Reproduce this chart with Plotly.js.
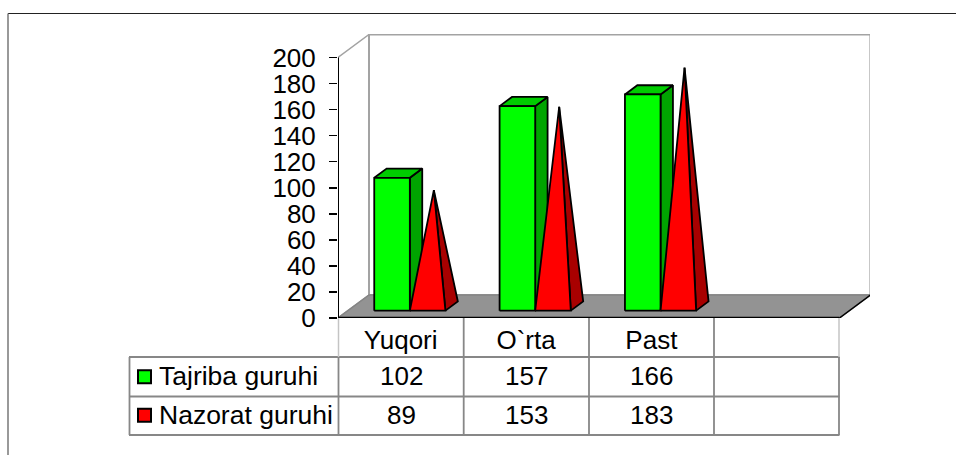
<!DOCTYPE html>
<html>
<head>
<meta charset="utf-8">
<script src="https://cdn.plot.ly/plotly-3.0.1.min.js"></script>
<style>html,body{margin:0;padding:0;background:#fff}#chart{width:956px;height:455px}</style>
</head>
<body>
<div id="chart"></div>
<script>
// ---- data ----
const categories = ["Yuqori", "O`rta", "Past", ""];
const tajribaName = "Tajriba guruhi";
const nazoratName = "Nazorat guruhi";
const tajriba = [102, 157, 166];
const nazorat = [89, 153, 183];
const yTicks = [0, 20, 40, 60, 80, 100, 120, 140, 160, 180, 200];

// ---- layout frame (pixels of the page) ----
const W = 956, H = 455;
const m = {l: 338, t: 34, r: 86, b: 137};
const plotW = W - m.l - m.r, plotH = H - m.t - m.b;
const catPx = 125.35, valPx = 1.3025;   // px per category, px per value unit
const depthX = 31 / catPx, depthY = 23 / valPx; // full depth of the 3-D floor
const xMax = plotW / catPx, yMax = plotH / valPx;

// oblique projection: category position, value, depth 0..1 -> axis coordinates
const P = (c, v, d) => [c + d * depthX, v + d * depthY];
function poly(pts, fill, line, width, name) {
  return {
    type: "scatter", mode: "lines", x: pts.map(p => p[0]), y: pts.map(p => p[1]),
    fill: fill ? "toself" : "none", fillcolor: fill || undefined,
    line: {color: line, width: width}, name: name, showlegend: false,
    hoverinfo: "skip", cliponaxis: false
  };
}
const closed = a => a.concat([a[0]]);

const traces = [];
const WALL = "#a3a3a3", FLOOR = "#939393";
// walls and floor
traces.push(poly(closed([P(0,0,0), P(0,200,0), P(0,200,1), P(0,0,1)]), "#ffffff", WALL, 1.5, "left wall"));
traces.push(poly(closed([P(0,0,1), P(0,200,1), P(4,200,1), P(4,0,1)]), "#ffffff", WALL, 2, "back wall"));
traces.push(poly(closed([P(0,0,0), P(0,0,1), P(4,0,1), P(4,0,0)]), FLOOR, "#858585", 1.5, "floor"));
traces.push(poly([P(4,0,0), P(4,0,1)], null, "#000000", 1.5, "floor edge"));

// marks
const d0 = 0.32, d1 = 0.72, dm = (d0 + d1) / 2;
const barL = 0.21, barW = 0.284;
const BLK = 1.8;
tajriba.forEach((v, i) => {
  const a = i + barL, b = a + barW, c = b + barW;
  // column
  traces.push(poly(closed([P(b,0,d0), P(b,v,d0), P(b,v,d1), P(b,0,d1)]), "#00a400", "#000", BLK, tajribaName));
  traces.push(poly(closed([P(a,v,d0), P(a,v,d1), P(b,v,d1), P(b,v,d0)]), "#00cc00", "#000", BLK, tajribaName));
  traces.push(poly(closed([P(a,0,d0), P(a,v,d0), P(b,v,d0), P(b,0,d0)]), "#00ff00", "#000", BLK, tajribaName));
  // pyramid
  const n = nazorat[i], top = P((b + c) / 2, n, dm);
  traces.push(poly(closed([P(c,0,d0), P(c,0,d1), top]), "#a80000", "#000", BLK, nazoratName));
  traces.push(poly(closed([P(b,0,d0), P(c,0,d0), top]), "#ff0000", "#000", BLK, nazoratName));
});

// axis lines
traces.push(poly([[0,0],[0,200]], null, "#000000", 2, "y axis"));
traces.push(poly([[0,0],[4,0]], null, "#000000", 2.5, "x axis"));

// ---- table & frame ----
const FONT = {family: "Liberation Sans, Arial, sans-serif", size: 26, color: "#000"};
const LEGFONT = {family: "Liberation Sans, Arial, sans-serif", size: 26.5, color: "#000"};
const paperX = px => (px - m.l) / plotW;
const paperY = py => (m.t + plotH - py) / plotH;
const shapes = [];
const seg = (x0, y0, x1, y1, color, width) => shapes.push({
  type: "line", xref: "paper", yref: "paper",
  x0: paperX(x0), y0: paperY(y0), x1: paperX(x1), y1: paperY(y1),
  line: {color: color, width: width}
});
const GRID = "#878787", SOFT = "#c4c4c4";
[357, 396.5, 435].forEach(y => seg(129, y, 839.5, y, GRID, 1.8));
seg(129.5, 357, 129.5, 435, GRID, 1.8);
[463.7, 589, 714].forEach(x => seg(x, 318, x, 435, GRID, 1.8));
[338.5, 839].forEach(x => { seg(x, 318, x, 357, SOFT, 1.5); seg(x, 357, x, 435, GRID, 1.8); });
seg(8, 13.5, 956, 13.5, "#222222", 1.2);
seg(8, 13.5, 8, 455, "#777777", 1.5);

// legend keys inside the table
const key = (cy, color) => shapes.push({
  type: "rect", xref: "paper", yref: "paper",
  x0: paperX(138), x1: paperX(151), y0: paperY(cy + 6.5), y1: paperY(cy - 6.5),
  fillcolor: color, line: {color: "#000", width: 2}
});
key(376.7, "#00ff00");
key(415.3, "#ff0000");

const annotations = [];
const note = (text, x, y, anchor, font) => annotations.push({
  text: text, xref: "paper", yref: "paper", x: paperX(x), y: paperY(y),
  xanchor: anchor, yanchor: "middle", showarrow: false, font: font
});
note(tajribaName, 157, 376, "left", LEGFONT);
note(nazoratName, 157, 415, "left", LEGFONT);
[tajriba, nazorat].forEach((row, r) => row.forEach((v, i) => {
  note(String(v), 338.5 + (i + 0.5) * catPx, r ? 415 : 376, "center", FONT);
}));

Plotly.newPlot("chart", traces, {
  width: W, height: H, margin: m, showlegend: false,
  paper_bgcolor: "#fff", plot_bgcolor: "#fff",
  font: FONT,
  xaxis: {
    range: [0, xMax], showgrid: false, zeroline: false, showline: false,
    tickmode: "array", tickvals: [0.5, 1.5, 2.5, 3.5], ticktext: categories,
    ticks: "", tickfont: FONT, ticklabelstandoff: 4
  },
  yaxis: {
    range: [0, yMax], showgrid: false, zeroline: false, showline: false,
    tickmode: "array", tickvals: yTicks, ticktext: yTicks.map(String),
    ticks: "outside", ticklen: 8, tickwidth: 1.5, tickcolor: "#000",
    tickfont: FONT, ticklabelstandoff: 8
  },
  shapes: shapes, annotations: annotations
}, {displayModeBar: false, staticPlot: true});
</script>
</body>
</html>
